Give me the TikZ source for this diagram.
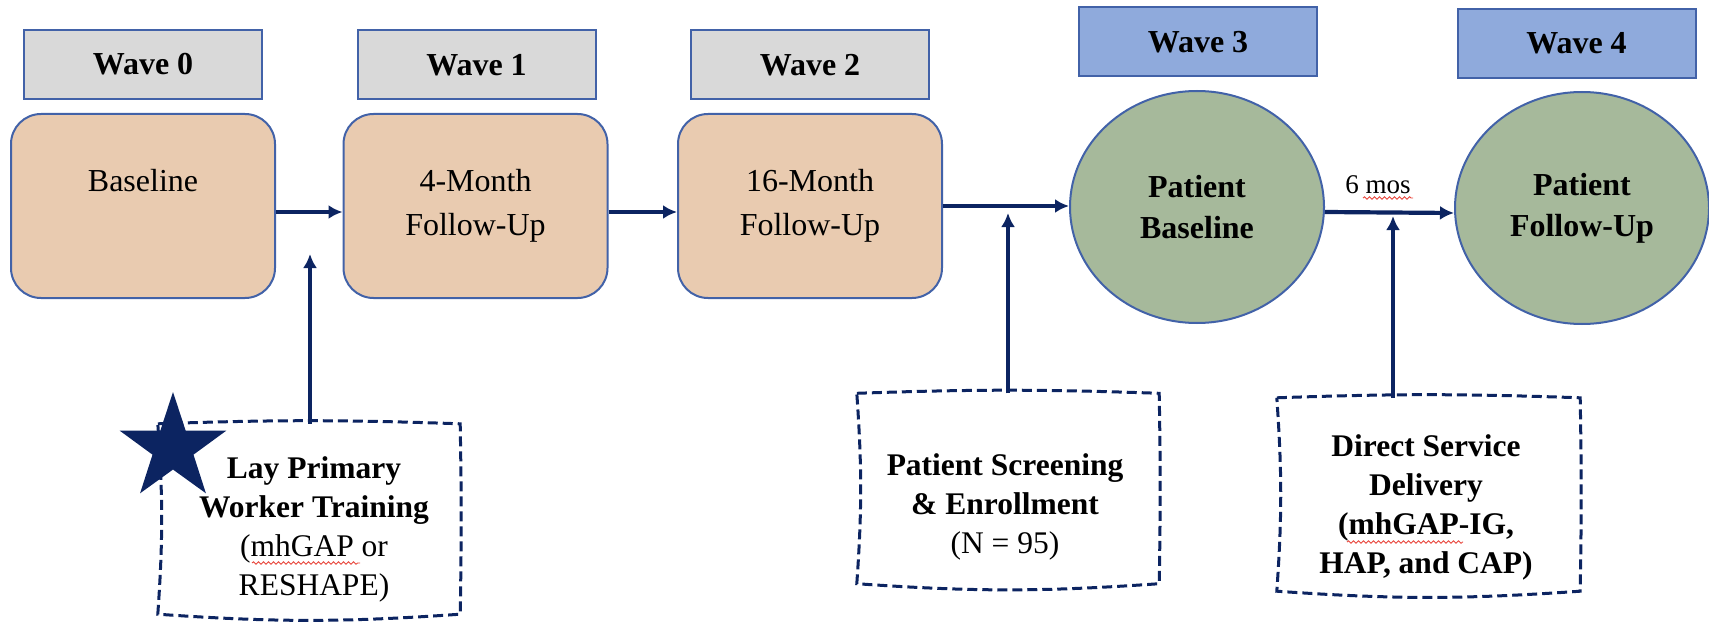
\documentclass[tikz,border=0pt]{standalone}
\usepackage{fontspec}
\setmainfont{Liberation Serif}
\usetikzlibrary{shapes.geometric,arrows.meta,decorations.pathmorphing}

\definecolor{waveGray}{RGB}{217,217,217}
\definecolor{waveSky}{RGB}{143,170,220}
\definecolor{edgeBlue}{RGB}{66,98,168}
\definecolor{stageTan}{RGB}{233,203,176}
\definecolor{sage}{RGB}{166,185,155}
\definecolor{navy}{RGB}{12,36,97}
\definecolor{squig}{RGB}{232,70,60}

% hand-drawn looking dashed outline around a named node
\newcommand\handdrawn[1]{%
  \draw[handline] (#1.north west) to[bend left=2] (#1.north east)
    to[bend left=1] (#1.south east) to[bend left=4] (#1.south west)
    to[bend right=4] (#1.north west);}

\begin{document}
\begin{tikzpicture}[x=1pt,y=1pt,
  wavebase/.style={draw=edgeBlue, line width=2pt, minimum width=238pt,
    minimum height=69pt, inner sep=0pt, font=\fontsize{32}{38}\selectfont\bfseries},
  wavegrey/.style={wavebase, fill=waveGray},
  waveblue/.style={wavebase, fill=waveSky},
  stage/.style={draw=edgeBlue, line width=2pt, fill=stageTan, rounded corners=30pt,
    minimum width=264pt, minimum height=184pt, align=center,
    font=\fontsize{32}{44}\selectfont},
  visit/.style={ellipse, draw=edgeBlue, line width=2pt, fill=sage,
    minimum width=254pt, minimum height=232pt, inner sep=0pt, align=center,
    font=\fontsize{32}{41}\selectfont\bfseries},
  flow/.style={draw=navy, line width=4.2pt, -{Latex[length=14pt,width=14pt]}},
  notebox/.style={minimum width=302pt, minimum height=190pt, inner sep=0pt},
  notetext/.style={align=center, inner sep=0pt, font=\fontsize{31.5}{39}\selectfont},
  handline/.style={draw=navy, line width=3pt, dash pattern=on 10pt off 5pt},
  squiggle/.style={draw=squig, line width=0.9pt, decorate,
    decoration={snake, amplitude=1.2pt, segment length=5pt}},
]
\useasboundingbox (0,0) rectangle (1709,-623);

% wave headers
\node[wavegrey] (w0) at (143,-64.5) {Wave 0};
\node[wavegrey] (w1) at (476.5,-65) {Wave 1};
\node[wavegrey] (w2) at (810,-65) {Wave 2};
\node[waveblue] (w3) at (1198,-42) {Wave 3};
\node[waveblue] (w4) at (1576.5,-43.5) {Wave 4};

% assessment stages
\node[stage] (s0) at (143,-206) {Baseline\\\phantom{Follow-Up}};
\node[stage] (s1) at (475.5,-206) {4-Month\\Follow-Up};
\node[stage] (s2) at (810,-206) {16-Month\\Follow-Up};
\node[visit] (p0) at (1197,-207) {Patient\\Baseline};
\node[visit] (p1) at (1582,-208) {Patient\\Follow-Up};

% timeline arrows
\draw[flow] ([yshift=-6pt]s0.east) -- ([yshift=-6pt]s1.west);
\draw[flow] ([yshift=-6pt]s1.east) -- ([yshift=-6pt]s2.west);
\draw[flow] (s2.east) -- (s2.east -| p0.west);
\draw[flow] ([yshift=-5pt]p0.east) -- ([yshift=-5pt]p1.west);
\node[font=\fontsize{27}{32}\selectfont] (gap) at (1378,-185) {6 mos};

% activity boxes
\node[notebox] (nb0) at (309,-519) {};
\node[notebox] (nb1) at (1008,-488.5) {};
\node[notebox, minimum width=303pt, minimum height=193pt] (nb2) at (1428.5,-494.5) {};
\handdrawn{nb0}
\handdrawn{nb1}
\handdrawn{nb2}

\node[notetext] (nt0) at (314,-529)
  {\textbf{Lay Primary}\\\textbf{Worker Training}\\(mhGAP or\\RESHAPE)};
\node[notetext] (nt1) at (1005,-507)
  {\textbf{Patient Screening}\\\textbf{\& Enrollment}\\(N = 95)};
\node[notetext, font=\fontsize{31.5}{39}\selectfont\bfseries] (nt2) at (1426,-507)
  {Direct Service\\Delivery\\(mhGAP-IG,\\HAP, and CAP)};

% activities feeding into the timeline
\coordinate (t0) at (310,-254);
\coordinate (t1) at (1008,-213);
\coordinate (t2) at (1393,-216);
\draw[flow] (nb0.north -| t0) -- (t0);
\draw[flow] (nb1.north -| t1) -- (t1);
\draw[flow] (nb2.north -| t2) -- (t2);

% marker star
\node[star, star points=5, star point ratio=2.6, fill=navy, minimum size=112pt,
  inner sep=0pt] (badge) at (173,-448) {};

% spell-check underlines
\draw[squiggle] (252,-563) -- (360,-563);
\draw[squiggle] (1363,-198) -- (1413,-198);
\draw[squiggle] (1347,-542) -- (1463,-542);
\end{tikzpicture}
\end{document}
